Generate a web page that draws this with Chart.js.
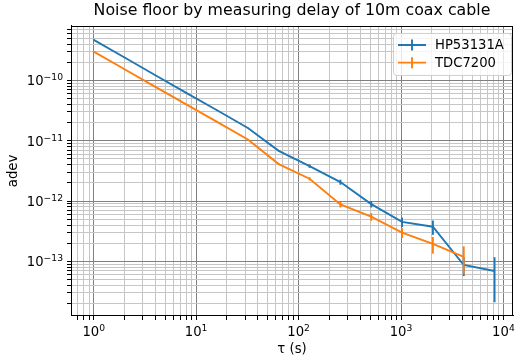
<!DOCTYPE html>
<html>
<head>
<meta charset="utf-8">
<title>Noise floor by measuring delay of 10m coax cable</title>
<script src="https://cdn.jsdelivr.net/npm/chart.js"></script>
<style>
  html, body { margin: 0; padding: 0; background: #fff; }
  canvas { display: block; }
</style>
</head>
<body>
<canvas id="chart" width="526" height="363"></canvas>
<script>
// averaging times (s)
const tau = [1, 2, 4, 8, 16, 32, 64, 128, 256, 512, 1024, 2048, 4096, 8192];

// HP53131A adev and error
const hpAdev = [4.7e-10, 2.4e-10, 1.22e-10, 6.2e-11, 3.2e-11, 1.63e-11, 6.8e-12,
                3.8e-12, 2.06e-12, 8.9e-13, 4.5e-13, 3.75e-13, 8.7e-14, 6.9e-14];
const hpErr  = [5e-12, 3e-12, 1.5e-12, 8e-13, 4e-13, 2e-13, 1e-13,
                2.5e-13, 2e-13, 1.1e-13, 8e-14, 1e-13, 3e-14, 4.8e-14];

// TDC7200 adev and error (no point at 8192 s)
const tdcAdev = [3.0e-10, 1.53e-10, 7.8e-11, 4.0e-11, 2.05e-11, 1.05e-11, 4.1e-12,
                 2.34e-12, 8.8e-13, 5.5e-13, 3.0e-13, 1.94e-13, 1.19e-13];
const tdcErr  = [3e-12, 2e-12, 1e-12, 5e-13, 3e-13, 1.5e-13, 1e-13,
                 1.4e-13, 1e-13, 8e-14, 5.5e-14, 6e-14, 5.8e-14];

// decade ticks, labelled as base + superscript exponent
const xDecades = [1, 10, 100, 1000, 10000];
const xTickExponents = ['0', '1', '2', '3', '4'];
const yDecades = [1e-13, 1e-12, 1e-11, 1e-10];
const yTickExponents = ['−13', '−12', '−11', '−10'];
const tickBase = '10';
const minorSteps = [2, 3, 4, 5, 6, 7, 8, 9];

const xMin = 0.64, xMax = 12400;
const yMin = 1.24e-14, yMax = 8.0e-10;

const blue = '#1f77b4';
const orange = '#ff7f0e';
const FONT = "'DejaVu Sans', sans-serif";

Chart.defaults.font.family = FONT;
Chart.defaults.color = '#000';

function logTicks(decades, min, max) {
  const out = [];
  const bases = [decades[0] / 10].concat(decades);
  bases.forEach(d => {
    minorSteps.forEach(m => {
      const v = d * m;
      if (v > min && v < max) out.push({ value: v, major: false });
    });
  });
  decades.forEach(d => {
    if (d >= min && d <= max) out.push({ value: d, major: true });
  });
  return out.sort((a, b) => a.value - b.value);
}

// vertical error bars, drawn right after each dataset's line
const errorBars = {
  id: 'errorBars',
  afterDatasetDraw(chart, args) {
    const ds = chart.data.datasets[args.index];
    if (!ds.errors) return;
    const { ctx, chartArea: a, scales: { x, y } } = chart;
    ctx.save();
    ctx.beginPath();
    ctx.rect(a.left, a.top, a.right - a.left, a.bottom - a.top);
    ctx.clip();
    ctx.strokeStyle = ds.borderColor;
    ctx.lineWidth = ds.borderWidth;
    ds.data.forEach((p, i) => {
      const e = ds.errors[i];
      const px = x.getPixelForValue(p.x);
      ctx.beginPath();
      ctx.moveTo(px, y.getPixelForValue(p.y + e));
      ctx.lineTo(px, y.getPixelForValue(p.y - e));
      ctx.stroke();
    });
    ctx.restore();
  }
};

// full box around the plot area
const frame = {
  id: 'frame',
  afterDatasetsDraw(chart) {
    const { ctx, chartArea: a } = chart;
    ctx.save();
    ctx.strokeStyle = '#000';
    ctx.lineWidth = 1;
    ctx.strokeRect(Math.round(a.left) + 0.5, Math.round(a.top) + 0.5,
                   Math.round(a.right - a.left) - 1, Math.round(a.bottom - a.top) - 1);
    ctx.restore();
  }
};

// decade labels like 10^-12 with a raised, smaller exponent
const powerLabels = {
  id: 'powerLabels',
  afterDraw(chart) {
    const { ctx, chartArea: a, scales: { x, y } } = chart;
    const big = '13.2px ' + FONT, small = '9.2px ' + FONT;
    ctx.save();
    ctx.fillStyle = '#000';
    ctx.textBaseline = 'alphabetic';
    ctx.textAlign = 'left';
    xDecades.forEach((d, i) => {
      if (d < xMin || d > xMax) return;
      const px = x.getPixelForValue(d);
      ctx.font = big;
      const wb = ctx.measureText(tickBase).width;
      ctx.font = small;
      const we = ctx.measureText(xTickExponents[i]).width;
      const left = px - (wb + we) / 2;
      const base = a.bottom + 20;
      ctx.font = big;
      ctx.fillText(tickBase, left, base);
      ctx.font = small;
      ctx.fillText(xTickExponents[i], left + wb, base - 5);
    });
    yDecades.forEach((d, i) => {
      if (d < yMin || d > yMax) return;
      const py = y.getPixelForValue(d);
      ctx.font = small;
      const we = ctx.measureText(yTickExponents[i]).width;
      ctx.font = big;
      const wb = ctx.measureText(tickBase).width;
      const right = a.left - 8;
      const base = py + 4.8;
      ctx.font = big;
      ctx.fillText(tickBase, right - we - wb, base);
      ctx.font = small;
      ctx.fillText(yTickExponents[i], right - we, base - 5);
    });
    ctx.restore();
  }
};

// matplotlib style legend in the upper right corner
const legendBox = {
  id: 'legendBox',
  afterDraw(chart) {
    const { ctx, chartArea: a } = chart;
    const w = 118, h = 42;
    const bx = a.right - 2 - w, by = a.top + 7;
    ctx.save();
    ctx.beginPath();
    ctx.roundRect(bx + 0.5, by + 0.5, w, h, 3);
    ctx.fillStyle = 'rgba(255,255,255,0.8)';
    ctx.fill();
    ctx.strokeStyle = '#d0d0d0';
    ctx.lineWidth = 1;
    ctx.stroke();
    ctx.font = '13.2px ' + FONT;
    ctx.textBaseline = 'middle';
    ctx.textAlign = 'left';
    chart.data.datasets.forEach((ds, i) => {
      const cy = by + 12 + i * 17.7;
      ctx.strokeStyle = ds.borderColor;
      ctx.lineWidth = 1.9;
      ctx.beginPath();
      ctx.moveTo(bx + 5, cy);
      ctx.lineTo(bx + 33, cy);
      ctx.moveTo(bx + 19, cy - 5.5);
      ctx.lineTo(bx + 19, cy + 5.5);
      ctx.stroke();
      ctx.fillStyle = '#000';
      ctx.fillText(ds.label, bx + 42, cy + 0.5);
    });
    ctx.restore();
  }
};

const gridColor = c => (c.tick && c.tick.major) ? '#808080' : '#c6c6c6';

new Chart(document.getElementById('chart'), {
  type: 'line',
  data: {
    datasets: [
      {
        label: 'HP53131A',
        data: tau.map((t, i) => ({ x: t, y: hpAdev[i] })),
        errors: hpErr,
        borderColor: blue,
        borderWidth: 1.9,
        pointRadius: 0,
        tension: 0,
        fill: false,
        order: 2
      },
      {
        label: 'TDC7200',
        data: tdcAdev.map((v, i) => ({ x: tau[i], y: v })),
        errors: tdcErr,
        borderColor: orange,
        borderWidth: 1.9,
        pointRadius: 0,
        tension: 0,
        fill: false,
        order: 1
      }
    ]
  },
  options: {
    responsive: false,
    animation: false,
    layout: { padding: { left: 0, right: 13, top: 0, bottom: 0 } },
    plugins: {
      legend: { display: false },
      tooltip: { enabled: false },
      title: {
        display: true,
        fullSize: false,
        text: 'Noise floor by measuring delay of 10m coax cable',
        color: '#000',
        font: { size: 15.8, weight: 'normal' },
        padding: { top: 1.5, bottom: 5.5 }
      }
    },
    scales: {
      x: {
        type: 'logarithmic',
        min: xMin,
        max: xMax,
        afterBuildTicks: s => { s.ticks = logTicks(xDecades, xMin, xMax); },
        afterFit: s => { s.height = 47; },
        ticks: { display: false, autoSkip: false, maxRotation: 0 },
        grid: { color: gridColor, lineWidth: 1, tickColor: '#000', tickLength: 4 },
        border: { color: '#000', width: 1 },
        title: { display: true, text: 'τ (s)', font: { size: 13.2 }, padding: { top: 0, bottom: 6 } }
      },
      y: {
        type: 'logarithmic',
        min: yMin,
        max: yMax,
        afterBuildTicks: s => { s.ticks = logTicks(yDecades, yMin, yMax); },
        afterFit: s => { s.width = 71; },
        ticks: { display: false, autoSkip: false },
        grid: { color: gridColor, lineWidth: 1, tickColor: '#000', tickLength: 4 },
        border: { color: '#000', width: 1 },
        title: { display: true, text: 'adev', font: { size: 13.2 }, padding: { top: 6, bottom: 0 } }
      }
    }
  },
  plugins: [errorBars, frame, powerLabels, legendBox]
});
</script>
</body>
</html>
